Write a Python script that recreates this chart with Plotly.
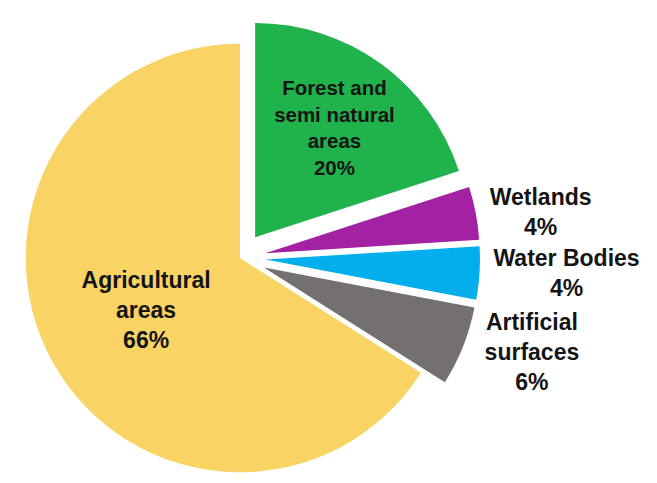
import plotly.graph_objects as go

categories = ["Forest and semi natural areas", "Wetlands", "Water Bodies",
              "Artificial surfaces", "Agricultural areas"]
display_text = ["Forest and<br>semi natural<br>areas", "Wetlands", "Water Bodies",
                "Artificial<br>surfaces", "Agricultural<br>areas"]
shares = [20, 4, 4, 6, 66]
colors = ["#20B24B", "#A321A3", "#03AEEC", "#757070", "#F9D464"]
pulls = [0.12, 0.12, 0.12, 0.12, 0.0]
text_pos = ["inside", "outside", "outside", "outside", "inside"]

FIG_W, FIG_H = 657, 520
CX, CY, HALF = 240, 258, 240
FONT = "Liberation Sans, Arial, sans-serif"

fig = go.Figure(go.Pie(
    labels=categories,
    values=shares,
    text=display_text,
    texttemplate="%{text}<br>%{percent:.0%}",
    textposition=text_pos,
    insidetextorientation="horizontal",
    sort=False,
    direction="clockwise",
    rotation=0,
    pull=pulls,
    marker=dict(colors=colors, line=dict(width=0)),
    textfont=dict(family=FONT, size=23, color="#141414", weight="bold"),
    hoverinfo="label+percent",
    showlegend=False,
    automargin=False,
    domain=dict(x=[(CX - HALF) / FIG_W, (CX + HALF) / FIG_W],
                y=[1 - (CY + HALF) / FIG_H, 1 - (CY - HALF) / FIG_H]),
))

fig.update_layout(
    width=FIG_W, height=FIG_H,
    margin=dict(l=0, r=0, t=0, b=0),
    paper_bgcolor="white",
    plot_bgcolor="white",
    font=dict(family=FONT, color="#141414"),
)

fig.write_html("out.html", config={"displayModeBar": False},
               post_script="document.body.style.margin='0';document.body.style.overflow='hidden';")
